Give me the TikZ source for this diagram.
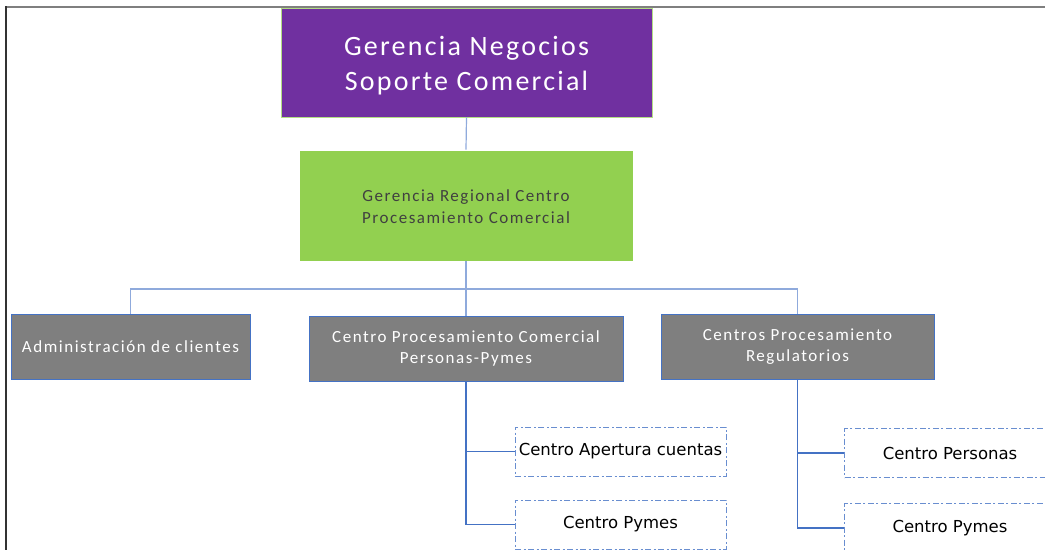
\documentclass[tikz,border=0pt]{standalone}
\usepackage{fontspec}
\setmainfont{Carlito}
\newfontfamily\calsp[LetterSpace=9]{Carlito}
\newfontfamily\calti[LetterSpace=8]{Carlito}
\newfontfamily\verd{DejaVu Sans}
\definecolor{purp}{HTML}{7030A0}
\definecolor{grn}{HTML}{92D050}
\definecolor{gry}{HTML}{7F7F7F}
\definecolor{blu}{HTML}{4472C4}
\definecolor{lblu}{HTML}{8FAADC}
\definecolor{dtxt}{HTML}{404040}
\begin{document}
\begin{tikzpicture}[x=1pt,y=-1pt,
  topbox/.style={fill=purp,draw=grn!70!white,line width=0.8pt,text=white,minimum width=371pt,minimum height=109pt,align=center,font=\calti\fontsize{28}{35}\selectfont,inner sep=0pt},
  regbox/.style={fill=grn,draw=white,line width=0.8pt,text=dtxt,minimum width=334pt,minimum height=111pt,align=center,font=\calsp\fontsize{17}{21}\selectfont,inner sep=0pt},
  graybox/.style={fill=gry,draw=blu,line width=1pt,text=white,minimum height=65pt,align=center,font=\calsp\fontsize{17}{21}\selectfont,inner sep=0pt},
  dashbox/.style={draw=blu!80!white,line width=1pt,dash pattern=on 6pt off 2.5pt on 2pt off 2.5pt,minimum width=211pt,minimum height=49pt,align=center,font=\verd\fontsize{16.5}{20}\selectfont,inner sep=0pt,fill=white},
  conn/.style={draw=blu,line width=1.2pt},
  lconn/.style={draw=lblu,line width=1.2pt}]
\useasboundingbox (0,0) rectangle (1045,550);
\clip (0,0) rectangle (1045,550);
\fill[white] (0,0) rectangle (1045,550);
% frame
\draw[draw=gry,line width=2pt] (6,7) -- (1045,7);
\draw[draw=black!80,line width=2pt] (6,6) -- (6,550);
% nodes
\node[topbox] (top) at (466.5,62.5) {\raisebox{-3pt}[\height][\depth]{\shortstack{Gerencia Negocios\\[7pt]Soporte Comercial}}};
\node[regbox] (reg) at (466,205.5) {\raisebox{-1.5pt}[\height][\depth]{\shortstack{Gerencia Regional Centro\\[4pt]Procesamiento Comercial}}};
\node[graybox,minimum width=239pt] (g1) at (130.5,346.5) {Administración de clientes};
\node[graybox,minimum width=314pt] (g2) at (466,348.5) {Centro Procesamiento Comercial\\Personas-Pymes};
\node[graybox,minimum width=273pt] (g3) at (797.5,346.5) {Centros Procesamiento\\Regulatorios};
\coordinate (bus) at (466,289);
% connectors
\draw[lconn] (top.south) -- (reg.north);
\draw[lconn] (reg.south) -- (g2.north);
\draw[lconn] (g1.north) -- (g1.north |- bus) -- (g3.north |- bus) -- (g3.north);
\node[dashbox] (da) at (620.5,451.5) {Centro Apertura cuentas};
\node[dashbox] (db) at (620.5,524.5) {Centro Pymes};
\node[dashbox] (dc) at (950,453) {Centro Personas};
\node[dashbox] (dd) at (950,528) {Centro Pymes};
\draw[conn] (g2.south) |- (da.west);
\draw[conn] (g2.south) |- (db.west);
\draw[conn] (g3.south) |- (dc.west);
\draw[conn] (g3.south) |- (dd.west);
\end{tikzpicture}
\end{document}
